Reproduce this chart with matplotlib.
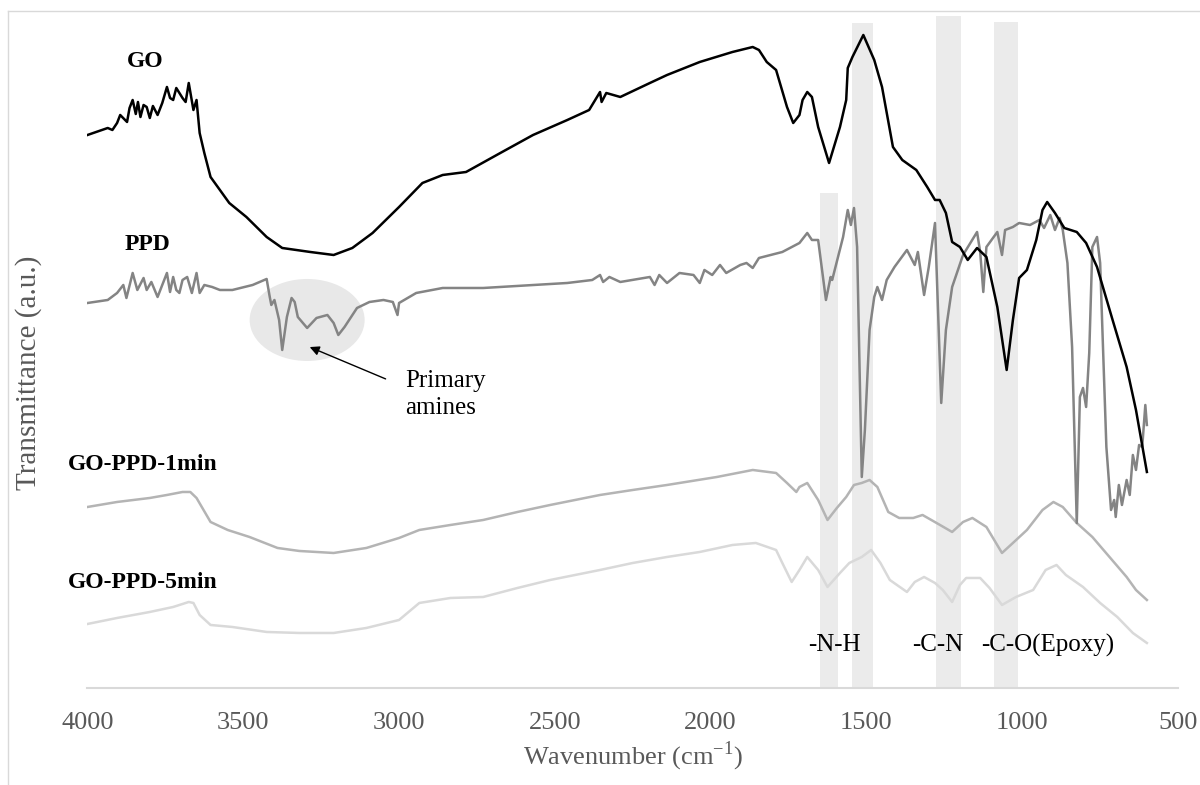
import matplotlib.pyplot as plt
from matplotlib.patches import Ellipse
from matplotlib.lines import Line2D

# FTIR spectra, wavenumber (cm-1) vs transmittance (a.u., offset traces)
go_x = [4000, 3935, 3920, 3905, 3895, 3873, 3865, 3855, 3845, 3838, 3830, 3820, 3810, 3800,
        3790, 3775, 3760, 3745, 3735, 3725, 3715, 3705, 3695, 3685, 3675, 3660, 3650, 3640,
        3625, 3605, 3575, 3545, 3490, 3425, 3375, 3285, 3210, 3150, 3085, 3000, 2925, 2860,
        2785, 2675, 2570, 2460, 2390, 2355, 2350, 2335, 2290, 2195, 2140, 2035, 1930, 1865,
        1845, 1820, 1790, 1755, 1735, 1715, 1705, 1690, 1675, 1655, 1620, 1585, 1565, 1560,
        1545, 1510, 1475, 1450, 1415, 1385, 1340, 1305, 1280, 1265, 1245, 1225, 1200, 1175,
        1145, 1115, 1080, 1050, 1030, 1010, 985, 955, 935, 920, 895, 865, 825, 795, 760, 710,
        665, 635, 600]
go_y = [5.53, 5.60, 5.58, 5.65, 5.73, 5.66, 5.80, 5.88, 5.74, 5.86, 5.71, 5.83, 5.81, 5.70,
        5.82, 5.73, 5.85, 6.01, 5.90, 5.88, 6.00, 5.95, 5.90, 5.86, 6.05, 5.78, 5.88, 5.55,
        5.35, 5.11, 4.98, 4.85, 4.71, 4.51, 4.40, 4.36, 4.33, 4.40, 4.55, 4.81, 5.05, 5.13,
        5.16, 5.35, 5.53, 5.68, 5.78, 5.96, 5.86, 5.95, 5.91, 6.05, 6.13, 6.26, 6.36, 6.41,
        6.38, 6.26, 6.18, 5.81, 5.65, 5.73, 5.88, 5.96, 5.91, 5.61, 5.25, 5.61, 5.88, 6.20,
        6.31, 6.53, 6.28, 6.01, 5.41, 5.28, 5.18, 5.01, 4.88, 4.88, 4.75, 4.46, 4.41, 4.28,
        4.40, 4.31, 3.81, 3.18, 3.68, 4.10, 4.18, 4.48, 4.78, 4.86, 4.75, 4.60, 4.56, 4.45,
        4.21, 3.68, 3.21, 2.78, 2.16]

ppd_x = [4000, 3935, 3905, 3885, 3875, 3855, 3840, 3820, 3810, 3795, 3775, 3760, 3745, 3735,
         3725, 3715, 3705, 3695, 3680, 3665, 3650, 3640, 3625, 3600, 3575, 3535, 3470, 3425,
         3415, 3410, 3400, 3385, 3375, 3360, 3345, 3335, 3325, 3295, 3265, 3230, 3210, 3195,
         3175, 3135, 3095, 3050, 3020, 3005, 3000, 2945, 2860, 2730, 2570, 2460, 2380, 2355,
         2345, 2325, 2290, 2195, 2180, 2165, 2140, 2100, 2055, 2035, 2020, 1995, 1970, 1950,
         1905, 1885, 1865, 1845, 1770, 1715, 1690, 1675, 1655, 1630, 1615, 1610, 1575, 1560,
         1550, 1540, 1530, 1515, 1505, 1490, 1475, 1465, 1450, 1435, 1410, 1370, 1345, 1335,
         1315, 1300, 1280, 1260, 1245, 1225, 1190, 1145, 1135, 1125, 1115, 1080, 1065, 1055,
         1030, 1010, 975, 945, 930, 910, 895, 880, 870, 855, 840, 825, 815, 805, 795, 785, 775,
         760, 750, 730, 715, 705, 700, 690, 680, 665, 655, 645, 635, 625, 615, 605, 600]
ppd_y = [3.85, 3.88, 3.95, 4.03, 3.90, 4.15, 3.98, 4.10, 3.98, 4.06, 3.91, 4.03, 4.15, 3.96,
         4.11, 3.98, 3.95, 4.08, 4.11, 3.95, 4.15, 3.95, 4.03, 4.01, 3.98, 3.98, 4.03, 4.09,
         3.91, 3.83, 3.88, 3.68, 3.38, 3.71, 3.90, 3.86, 3.71, 3.60, 3.70, 3.73, 3.65, 3.53,
         3.61, 3.80, 3.86, 3.88, 3.86, 3.73, 3.85, 3.95, 4.00, 4.00, 4.03, 4.05, 4.08, 4.13,
         4.06, 4.11, 4.06, 4.11, 4.03, 4.13, 4.05, 4.15, 4.13, 4.05, 4.18, 4.13, 4.23, 4.15,
         4.23, 4.25, 4.20, 4.30, 4.36, 4.45, 4.55, 4.48, 4.48, 3.88, 4.11, 4.08, 4.51, 4.78,
         4.63, 4.80, 4.41, 2.11, 2.58, 3.58, 3.91, 4.01, 3.88, 4.08, 4.21, 4.38, 4.23, 4.36,
         3.93, 4.21, 4.65, 2.85, 3.58, 4.01, 4.33, 4.56, 4.36, 3.96, 4.41, 4.56, 4.33, 4.58,
         4.61, 4.65, 4.63, 4.68, 4.60, 4.73, 4.58, 4.70, 4.58, 4.25, 3.41, 1.65, 2.91, 3.00,
         2.81, 3.35, 4.41, 4.51, 4.25, 2.41, 1.78, 1.88, 1.71, 2.03, 1.83, 2.08, 1.93, 2.33,
         2.18, 2.43, 2.41, 2.83, 2.63]

min1_x = [4000, 3905, 3800, 3745, 3695, 3670, 3650, 3605, 3550, 3480, 3390, 3320, 3210, 3105,
          3000, 2935, 2835, 2730, 2620, 2515, 2355, 2250, 2140, 1980, 1865, 1790, 1755, 1725,
          1715, 1690, 1655, 1625, 1595, 1565, 1540, 1515, 1490, 1465, 1430, 1395, 1350, 1320,
          1275, 1225, 1190, 1160, 1115, 1065, 1030, 985, 935, 900, 870, 825, 775, 720, 665,
          635, 600]
min1_y = [1.81, 1.86, 1.90, 1.93, 1.96, 1.96, 1.90, 1.66, 1.58, 1.51, 1.40, 1.37, 1.35, 1.40,
          1.50, 1.58, 1.63, 1.68, 1.76, 1.83, 1.93, 1.98, 2.03, 2.11, 2.18, 2.15, 2.05, 1.96,
          2.01, 2.05, 1.88, 1.68, 1.80, 1.91, 2.03, 2.05, 2.08, 2.01, 1.76, 1.70, 1.70, 1.73,
          1.65, 1.56, 1.66, 1.70, 1.61, 1.35, 1.45, 1.58, 1.78, 1.86, 1.81, 1.65, 1.51, 1.31,
          1.11, 0.98, 0.88]

min5_x = [4000, 3905, 3800, 3725, 3675, 3660, 3640, 3605, 3535, 3425, 3320, 3210, 3105, 3000,
          2935, 2835, 2730, 2620, 2515, 2355, 2250, 2140, 2035, 1930, 1855, 1790, 1770, 1740,
          1715, 1690, 1655, 1625, 1585, 1555, 1515, 1485, 1455, 1425, 1370, 1345, 1315, 1280,
          1255, 1225, 1200, 1180, 1135, 1105, 1065, 1020, 965, 925, 890, 860, 805, 750, 695,
          645, 600]
min5_y = [0.64, 0.70, 0.76, 0.81, 0.86, 0.85, 0.73, 0.63, 0.61, 0.56, 0.55, 0.55, 0.60, 0.68,
          0.85, 0.90, 0.91, 1.00, 1.08, 1.18, 1.25, 1.31, 1.36, 1.43, 1.45, 1.38, 1.25, 1.06,
          1.18, 1.31, 1.18, 1.01, 1.15, 1.25, 1.31, 1.38, 1.25, 1.08, 0.96, 1.06, 1.11, 1.05,
          0.98, 0.86, 1.03, 1.10, 1.10, 1.00, 0.83, 0.91, 0.98, 1.18, 1.23, 1.13, 1.01, 0.85,
          0.71, 0.55, 0.45]

# highlighted bands: (high, low, top)
bands = [(1650, 1590, 4.95), (1547, 1480, 6.65), (1278, 1198, 6.72), (1092, 1015, 6.66)]
band_labels = ["-N-H", "-C-N", "-C-O(Epoxy)"]
band_label_x = [1602, 1271, 919]

series_names = ["GO", "PPD", "GO-PPD-1min", "GO-PPD-5min"]
name_pos = [(3873, 6.26), (3880, 4.43), (4062, 2.23), (4062, 1.05)]

plt.rcParams['font.family'] = ['Liberation Serif', 'DejaVu Serif']
plt.rcParams['mathtext.fontset'] = 'custom'
plt.rcParams['mathtext.rm'] = 'Liberation Serif'

fig = plt.figure(figsize=(12, 7.85), dpi=100)
ax = fig.add_axes([0.0729, 0.1236, 0.9088, 0.8624])

for hi, lo, top in bands:
    ax.fill_between([lo, hi], 0, top, color='#ebebeb', lw=0, zorder=0)

ax.add_patch(Ellipse((3295, 3.68), 369, 0.82, color='#e8e8e8', lw=0, zorder=1))

ax.plot(min5_x, min5_y, color='#d9d9d9', lw=1.8, zorder=2)
ax.plot(min1_x, min1_y, color='#b4b4b4', lw=1.8, zorder=3)
ax.plot(ppd_x, ppd_y, color='#848484', lw=1.8, zorder=4)
ax.plot(go_x, go_y, color='black', lw=1.8, zorder=5)

for name, (x, y) in zip(series_names, name_pos):
    ax.text(x, y, name, fontsize=17, fontweight='bold', ha='left', va='center')

for lab, x in zip(band_labels, band_label_x):
    ax.text(x, 0.43, lab, fontsize=18, ha='center', va='center', zorder=6)

ax.annotate("", xy=(3295, 3.42), xytext=(3035, 3.08),
            arrowprops=dict(arrowstyle='-|>', color='black', lw=1, mutation_scale=14))
ax.text(2980, 3.18, "Primary\namines", fontsize=18, ha='left', va='top', linespacing=1.3)

ax.set_xlim(4000, 500)
ax.set_ylim(0, 6.77)
ax.set_xticks([4000, 3500, 3000, 2500, 2000, 1500, 1000, 500])
ax.set_yticks([])
ax.tick_params(axis='x', length=0, pad=17, labelsize=19, labelcolor='#595959')
for s in ['top', 'left', 'right']:
    ax.spines[s].set_visible(False)
ax.spines['bottom'].set_color('#d9d9d9')
ax.spines['bottom'].set_linewidth(1.5)
ax.set_xlabel(r'Wavenumber (cm$^{\mathrm{-1}}$)', fontsize=19, color='#595959', labelpad=4)
fig.text(29 / 1200, 1 - 373 / 785, "Transmittance (a.u.)", rotation=90, fontsize=21,
         color='#595959', ha='center', va='center')

# chart-area frame (left and top edges visible)
fig.add_artist(Line2D([8 / 1200, 8 / 1200], [0, 1 - 11 / 785], color='#d9d9d9', lw=1))
fig.add_artist(Line2D([8 / 1200, 1], [1 - 11 / 785, 1 - 11 / 785], color='#d9d9d9', lw=1))

fig.savefig("out.png", dpi=100)
